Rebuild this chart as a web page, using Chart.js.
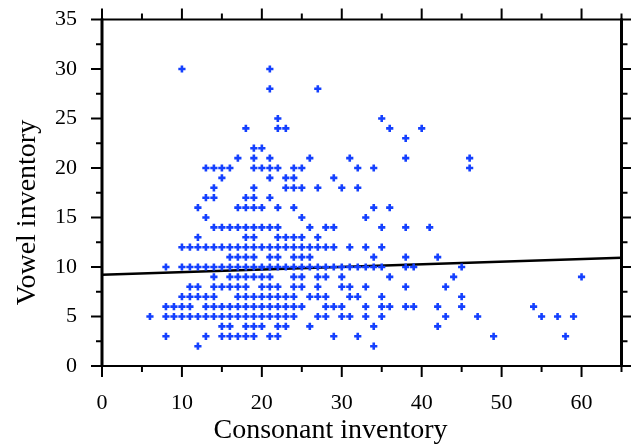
<!DOCTYPE html>
<html>
<head>
<meta charset="utf-8">
<style>html,body{margin:0;padding:0;background:#fff}#wrap{width:631px;height:445px}</style>
<script src="https://cdn.jsdelivr.net/npm/chart.js@4"></script>
</head>
<body>
<div id="wrap"><canvas id="c" width="631" height="445"></canvas></div>
<script>
const vowelLevels = [30,28,25,24,23,22,21,20,19,18,17,16,15,14,13,12,11,10,9,8,7,6,5,4,3,2];
const consonantsByLevel = [
  [10,21],
  [21,27],
  [22,35],
  [18,22,23,36,40],
  [38],
  [19,20],
  [17,19,21,26,31,38,46],
  [13,14,15,16,19,20,21,22,24,25,32,34,46],
  [15,21,23,24,29],
  [14,19,23,24,25,27,30,32],
  [13,14,18,19,21],
  [12,17,18,19,20,22,24,34,36],
  [13,25,33],
  [14,15,16,17,18,19,20,21,22,26,28,29,35,38,41],
  [12,18,19,22,23,24,25,27],
  [10,11,12,13,14,15,16,17,18,19,20,21,22,23,24,25,26,27,28,29,31,33,35],
  [16,17,18,19,21,22,24,25,26,34,38,42],
  [8,10,11,12,13,14,15,16,17,18,19,20,21,22,23,24,25,26,27,28,29,30,31,32,33,34,35,38,39,45],
  [14,16,17,18,19,20,21,24,25,27,28,30,36,44,60],
  [11,12,14,15,16,17,18,20,21,22,24,25,27,30,31,33,38,43],
  [10,11,12,13,14,17,18,19,20,21,22,23,24,26,27,28,31,32,35,45],
  [8,9,10,11,13,14,15,16,17,18,19,20,21,22,23,24,25,28,29,30,33,35,36,38,39,42,45,54],
  [6,8,9,10,11,12,13,14,15,16,17,18,19,20,21,22,23,24,27,28,30,31,33,35,43,47,55,57,59],
  [15,16,18,19,20,22,23,26,34,42],
  [8,13,15,16,17,18,19,21,22,29,32,49,58],
  [12,34]
];
const trendX = [0,65];
const trendY = [9.22,10.94];
const xMajor = [0,10,20,30,40,50,60];
const xMinor = [5,15,25,35,45,55,65];
const yMajor = [0,5,10,15,20,25,30,35];
const yMinor = [2.5,7.5,12.5,17.5,22.5,27.5,32.5];
const xTitle = 'Consonant inventory';
const yTitle = 'Vowel inventory';

const points = [];
vowelLevels.forEach((v,i)=>consonantsByLevel[i].forEach(c=>points.push({x:c,y:v})));

const frame = {
  id:'frame',
  afterDraw(chart){
    const {ctx,chartArea:a,scales:{x,y}} = chart;
    ctx.save();
    ctx.strokeStyle='#000';
    const tick=(x1,y1,x2,y2,w)=>{ctx.lineWidth=w;ctx.beginPath();ctx.moveTo(x1,y1);ctx.lineTo(x2,y2);ctx.stroke();};
    tick(a.left,a.top,a.right,a.top,2);
    tick(a.left-1,a.bottom,a.right,a.bottom,2);
    tick(a.left,a.top-1,a.left,a.bottom+1,3);
    tick(a.right,a.top-1,a.right,a.bottom+1,3);
    xMajor.forEach(v=>{const p=x.getPixelForValue(v);
      tick(p,a.bottom,p,a.bottom+11,2);tick(p,a.top,p,a.top-11,2);});
    xMinor.forEach(v=>{const p=x.getPixelForValue(v);
      tick(p,a.bottom,p,a.bottom+6,2);tick(p,a.top,p,a.top-6,2);});
    yMajor.forEach(v=>{const p=y.getPixelForValue(v);
      tick(a.left,p,a.left-11,p,2);tick(a.right,p,a.right+10,p,2);});
    yMinor.forEach(v=>{const p=y.getPixelForValue(v);
      tick(a.left,p,a.left-6,p,2);tick(a.right,p,a.right+6,p,2);});
    ctx.fillStyle='#000';
    ctx.font='28px "Liberation Serif"';
    ctx.textAlign='center';
    ctx.textBaseline='alphabetic';
    ctx.fillText(xTitle,330.5,438);
    ctx.translate(35,212.5);
    ctx.rotate(-Math.PI/2);
    ctx.fillText(yTitle,0,0);
    ctx.restore();
  }
};

new Chart(document.getElementById('c'),{
  type:'scatter',
  data:{datasets:[
    {type:'scatter',data:points,pointStyle:'cross',pointRadius:3.6,pointBorderWidth:2.6,
     pointBorderColor:'#1440ff',pointBackgroundColor:'#1440ff',showLine:false,order:1},
    {type:'line',data:trendX.map((t,i)=>({x:t,y:trendY[i]})),borderColor:'#000',borderWidth:2.5,
     pointRadius:0,fill:false,tension:0,order:2}
  ]},
  options:{
    responsive:false,animation:false,
    layout:{autoPadding:false,padding:{top:19.5,right:9.5,left:0,bottom:0}},
    plugins:{legend:{display:false},tooltip:{enabled:false}},
    scales:{
      x:{type:'linear',min:0,max:65,
        afterFit(s){s.height=79;s.paddingLeft=0;s.paddingRight=0;},
        afterBuildTicks(s){s.ticks=xMajor.map(v=>({value:v}));},
        grid:{display:false,drawTicks:false},border:{display:false},
        ticks:{padding:24,color:'#000',maxRotation:0,font:{family:'"Liberation Serif"',size:22}},
        title:{display:false}},
      y:{type:'linear',min:0,max:35,
        afterFit(s){s.width=102;s.paddingTop=0;s.paddingBottom=0;},
        afterBuildTicks(s){s.ticks=yMajor.map(v=>({value:v}));},
        grid:{display:false,drawTicks:false},border:{display:false},
        ticks:{padding:25,color:'#000',font:{family:'"Liberation Serif"',size:22}},
        title:{display:false}}
    }
  },
  plugins:[frame]
});
</script>
</body>
</html>
